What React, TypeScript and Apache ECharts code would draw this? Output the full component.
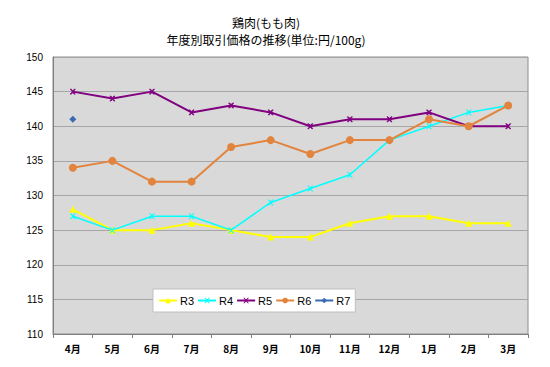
import React, { useEffect, useRef } from "react";
import * as echarts from "echarts";

const months = ["4月", "5月", "6月", "7月", "8月", "9月", "10月", "11月", "12月", "1月", "2月", "3月"];
const r3 = [128, 125, 125, 126, 125, 124, 124, 126, 127, 127, 126, 126];
const r4 = [127, 125, 127, 127, 125, 129, 131, 133, 138, 140, 142, 143];
const r5 = [145, 144, 145, 142, 143, 142, 140, 141, 141, 142, 140, 140];
const r6 = [134, 135, 132, 132, 137, 138, 136, 138, 138, 141, 140, 143];
const r7 = [141, null, null, null, null, null, null, null, null, null, null, null];

const xPath = "path://M0,0L2,0L5,3L8,0L10,0L6,5L10,10L8,10L5,7L2,10L0,10L4,5Z";

export default function App() {
  const ref = useRef<HTMLDivElement>(null);
  useEffect(() => {
    document.body.style.margin = "0";
    const chart = echarts.init(ref.current!, null, { renderer: "svg" });
    const font = "Liberation Sans, Arial, sans-serif";
    chart.setOption({
      animation: false,
      backgroundColor: "#ffffff",
      textStyle: { fontFamily: font },
      title: {
        text: "鶏肉(もも肉)\n年度別取引価格の推移(単位:円/100g)",
        left: 261,
        top: 9,
        textAlign: "center",
        textStyle: { fontSize: 12, fontWeight: "normal", color: "#000", lineHeight: 17, fontFamily: "Noto Sans CJK JP, sans-serif" },
      },
      grid: {
        left: 53,
        right: 22,
        top: 57,
        bottom: 33,
        show: true,
        backgroundColor: "#d9d9d9",
        borderColor: "#8c8c8c",
        borderWidth: 1,
      },
      legend: {
        left: 153,
        top: 289,
        orient: "horizontal",
        padding: [6, 5, 6, 5],
        backgroundColor: "#ffffff",
        borderColor: "#bfbfbf",
        borderWidth: 1,
        itemWidth: 18,
        itemHeight: 7,
        itemGap: 3,
        textStyle: { fontSize: 11, color: "#000", fontFamily: font, padding: [0, 0, 0, -2] },
        data: [
          { name: "R3" },
          { name: "R4" },
          { name: "R5", itemStyle: { borderWidth: 0 } },
          { name: "R6" },
          { name: "R7" },
        ],
      },
      xAxis: {
        type: "category",
        data: months,
        boundaryGap: true,
        axisLine: { lineStyle: { color: "#808080" } },
        axisTick: { show: true, length: 4, lineStyle: { color: "#808080" } },
        axisLabel: { fontSize: 10, color: "#000", fontWeight: "bold", margin: 9, fontFamily: "Noto Sans CJK JP, sans-serif" },
      },
      yAxis: {
        type: "value",
        min: 110,
        max: 150,
        interval: 5,
        axisLine: { show: true, lineStyle: { color: "#808080" } },
        axisTick: { show: false },
        axisLabel: { fontSize: 10, color: "#000", margin: 10, fontFamily: font },
        splitLine: { lineStyle: { color: "#a6a6a6", width: 1 } },
      },
      series: [
        {
          name: "R3",
          type: "line",
          data: r3,
          symbol: "triangle",
          symbolSize: 7,
          color: "#ffff00",
          lineStyle: { width: 2, color: "#ffff00" },
          itemStyle: { color: "#ffff00" },
        },
        {
          name: "R4",
          type: "line",
          data: r4,
          symbol: xPath,
          symbolSize: 6,
          color: "#00ffff",
          lineStyle: { width: 1.5, color: "#00ffff" },
          itemStyle: { color: "#00ffff" },
        },
        {
          name: "R5",
          type: "line",
          data: r5,
          symbol: xPath,
          symbolSize: 5,
          color: "#800080",
          lineStyle: { width: 2, color: "#800080" },
          itemStyle: { color: "#800080", borderColor: "#800080", borderWidth: 0.8 },
        },
        {
          name: "R6",
          type: "line",
          data: r6,
          symbol: "circle",
          symbolSize: 8,
          color: "#e2843d",
          lineStyle: { width: 2, color: "#e2843d" },
          itemStyle: { color: "#e2843d" },
        },
        {
          name: "R7",
          type: "line",
          data: r7,
          symbol: "diamond",
          symbolSize: 7,
          color: "#3a6ab0",
          lineStyle: { width: 2, color: "#3a6ab0" },
          itemStyle: { color: "#3a6ab0" },
        },
      ],
    });
    return () => chart.dispose();
  }, []);
  return <div ref={ref} style={{ width: 550, height: 367 }} />;
}
